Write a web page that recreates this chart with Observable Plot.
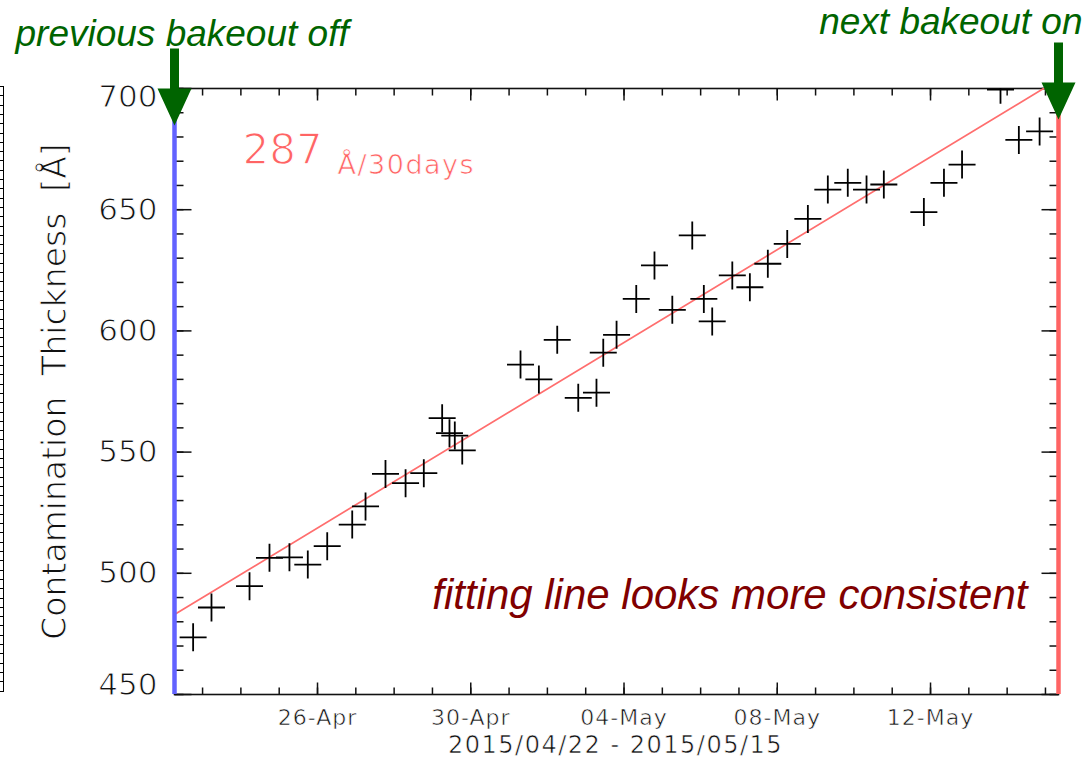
<!DOCTYPE html>
<html>
<head>
<meta charset="utf-8">
<script src="https://cdn.jsdelivr.net/npm/d3@7"></script>
<script src="https://cdn.jsdelivr.net/npm/@observablehq/plot@0.6"></script>
<style>
html, body { margin: 0; padding: 0; background: #fff; }
#wrap { position: relative; width: 1090px; height: 757px; overflow: hidden; background: #fff; }
#wrap svg { position: absolute; left: 0; top: 0; }
#edge { position: absolute; left: 0; top: 86px; width: 3px; height: 606px; border-right: 1.5px solid #000;
  background: repeating-linear-gradient(to bottom, #000 0, #000 1px, transparent 1px, transparent 9.3px); z-index: 2; }
</style>
</head>
<body>
<div id="wrap"><div id="edge"></div></div>
<script>
// ---- data ----
const obsTimes = [
  "2015-04-22T18:05Z", "2015-04-23T05:35Z", "2015-04-24T05:25Z", "2015-04-24T17:55Z",
  "2015-04-25T06:25Z", "2015-04-25T17:55Z", "2015-04-26T06:05Z", "2015-04-26T21:45Z",
  "2015-04-27T06:05Z", "2015-04-27T18:35Z", "2015-04-28T07:10Z", "2015-04-28T18:35Z",
  "2015-04-29T06:05Z", "2015-04-29T10:40Z", "2015-04-29T14:00Z", "2015-04-29T18:40Z",
  "2015-05-01T07:10Z", "2015-05-01T18:40Z", "2015-05-02T06:10Z", "2015-05-02T19:20Z",
  "2015-05-03T06:45Z", "2015-05-03T11:00Z", "2015-05-03T19:20Z", "2015-05-04T07:40Z",
  "2015-05-04T19:05Z", "2015-05-05T06:15Z", "2015-05-05T18:45Z", "2015-05-06T02:00Z",
  "2015-05-06T07:15Z", "2015-05-06T19:50Z", "2015-05-07T06:50Z", "2015-05-07T18:05Z",
  "2015-05-08T06:15Z", "2015-05-08T19:10Z", "2015-05-09T07:40Z", "2015-05-09T20:10Z",
  "2015-05-10T07:55Z", "2015-05-10T18:45Z", "2015-05-11T19:50Z", "2015-05-12T08:25Z",
  "2015-05-12T19:45Z", "2015-05-13T19:50Z", "2015-05-14T07:20Z", "2015-05-14T20:20Z"
];
const thickness = [
  473.6, 485.9, 494.7, 506.4,
  506.6, 503.6, 511.2, 520.1,
  527.6, 541.0, 537.2, 541.3,
  564.0, 557.8, 556.8, 550.7,
  586.1, 580.0, 596.3, 572.4,
  574.5, 591.0, 598.4, 613.2,
  627.0, 608.7, 639.4, 613.2,
  603.9, 622.9, 618.0, 627.7,
  635.9, 646.2, 658.3, 661.1,
  658.3, 660.4, 649.0, 661.1,
  668.6, 699.5, 678.8, 682.3
];
const bakeoutOff = "2015-04-22T06:25Z";   // previous bakeout off (left edge)
const bakeoutOn  = "2015-05-15T08:10Z";   // next bakeout on (right edge)
const fitIntercept = 483;                 // Å at bakeoutOff
const fitRatePer30Days = 287;             // Å / 30 days
const yDomain = [450, 700];
const yLabelTicks = [500, 550, 600, 650];
const yEndTicks = [450, 700];
const xLabelDates = ["2015-04-26", "2015-04-30", "2015-05-04", "2015-05-08", "2015-05-12"];
const rateText = "287";
const rateUnit = "Å/30days";
const leftNote = "previous bakeout off";
const rightNote = "next bakeout on";
const fitNote = "fitting line looks more consistent";
const yTitle = "Contamination\u00a0\u00a0Thickness\u00a0\u00a0[Å]";
const xTitle = "2015/04/22 - 2015/05/15";

// ---- derived tables ----
const t0 = new Date(bakeoutOff), t1 = new Date(bakeoutOn);
const obs = obsTimes.map((t, i) => ({date: new Date(t), value: thickness[i]}));
const dayMs = 864e5;
const fit = [t0, t1].map(d => ({date: d, value: fitIntercept + fitRatePer30Days / 30 * (d - t0) / dayMs}));
const xMajor = xLabelDates.map(d => new Date(d + "T00:00Z"));
const xMinor = d3.utcDay.range(d3.utcDay.ceil(t0), t1);
const yMajor = d3.range(yDomain[0], yDomain[1] + 1, 50);
const yMinor = d3.range(yDomain[0], yDomain[1] + 1, 10);
const arrows = [{date: t0, value: 684.7}, {date: t1, value: 687.2}];

const seg = (x1, y1, x2, y2) => ({draw(c) { c.moveTo(x1, y1); c.lineTo(x2, y2); }});
const plusSym = {draw(c) { c.moveTo(-13.5, 0); c.lineTo(13.5, 0); c.moveTo(0, -14); c.lineTo(0, 14); }};
const arrowSym = {draw(c) {
  c.moveTo(0, 0); c.lineTo(-17, -37); c.lineTo(-4.5, -37); c.lineTo(-4.5, -77);
  c.lineTo(4.5, -77); c.lineTo(4.5, -37); c.lineTo(17, -37); c.closePath();
}};

const thin = w => ({stroke: "#fff", strokeWidth: w, paintOrder: "normal"});
const axisFont = {fontFamily: "DejaVu Sans", fill: "#111"};
const noteFont = {fontFamily: "Liberation Sans", fontStyle: "italic"};
const tick = {stroke: "#111", strokeWidth: 1.5, fill: "none"};

const chart = Plot.plot({
  width: 1090, height: 757,
  marginLeft: 174, marginRight: 32, marginTop: 88, marginBottom: 63,
  x: {type: "utc", domain: [t0, t1], axis: null},
  y: {domain: yDomain, axis: null},
  style: {background: "transparent", overflow: "visible"},
  marks: [
    Plot.frame({stroke: "#111", strokeWidth: 1.6}),
    // ticks on four sides (IDL style, pointing inward)
    Plot.dot(yMajor, {y: d => d, frameAnchor: "left", symbol: seg(0, 0, 17, 0), ...tick}),
    Plot.dot(yMinor, {y: d => d, frameAnchor: "left", symbol: seg(0, 0, 9, 0), ...tick}),
    Plot.dot(yMajor, {y: d => d, frameAnchor: "right", symbol: seg(0, 0, -17, 0), ...tick}),
    Plot.dot(yMinor, {y: d => d, frameAnchor: "right", symbol: seg(0, 0, -9, 0), ...tick}),
    Plot.dot(xMajor, {x: d => d, frameAnchor: "bottom", symbol: seg(0, 0, 0, -12), ...tick}),
    Plot.dot(xMinor, {x: d => d, frameAnchor: "bottom", symbol: seg(0, 0, 0, -7), ...tick}),
    Plot.dot(xMajor, {x: d => d, frameAnchor: "top", symbol: seg(0, 0, 0, 12), ...tick}),
    Plot.dot(xMinor, {x: d => d, frameAnchor: "top", symbol: seg(0, 0, 0, 7), ...tick}),
    // axis labels
    Plot.axisY({ticks: yLabelTicks, tickSize: 0, tickPadding: 17, fontSize: 31, label: null, ...axisFont}),
    Plot.text([yEndTicks[1]], {y: d => d, frameAnchor: "left", textAnchor: "end", dx: -17, dy: 9, fontSize: 31, ...axisFont, ...thin(1.0)}),
    Plot.text([yEndTicks[0]], {y: d => d, frameAnchor: "left", textAnchor: "end", dx: -17, dy: -9, fontSize: 31, ...axisFont, ...thin(1.0)}),
    Plot.axisX({ticks: xMajor, tickFormat: d3.utcFormat("%d-%b"), tickSize: 0, tickPadding: 15, fontSize: 22, label: null, ...axisFont}),
    Plot.text([xTitle], {frameAnchor: "bottom", dx: -1, dy: 58, lineAnchor: "bottom", fontSize: 24, ...axisFont, ...thin(0.6)}),
    Plot.text([yTitle], {frameAnchor: "left", textAnchor: "middle", lineAnchor: "middle", dx: -119, rotate: -90, fontSize: 33, ...axisFont, ...thin(1.0)}),
    // fit line and observations
    Plot.line(fit, {x: "date", y: "value", stroke: "#ff6e6e", strokeWidth: 1.7, clip: true}),
    Plot.dot(obs, {x: "date", y: "value", symbol: plusSym, fill: "none", stroke: "#000", strokeWidth: 1.8, clip: true}),
    // bakeout markers
    Plot.ruleX([t0], {stroke: "#6262ff", strokeWidth: 4.5}),
    Plot.ruleX([t1], {stroke: "#ff6464", strokeWidth: 4.5}),
    Plot.dot(arrows, {x: "date", y: "value", symbol: arrowSym, fill: "#006400", stroke: "none"}),
    // annotations
    Plot.text([leftNote], {frameAnchor: "top-left", dx: -159, dy: -43, textAnchor: "start", lineAnchor: "bottom", fontSize: 37, fill: "#006400", ...noteFont}),
    Plot.text([rightNote], {frameAnchor: "top-right", dx: 24, dy: -55, textAnchor: "end", lineAnchor: "bottom", fontSize: 37, fill: "#006400", ...noteFont}),
    Plot.text([fitNote], {frameAnchor: "bottom-right", dx: -31, dy: -86, textAnchor: "end", lineAnchor: "bottom", fontSize: 42, fill: "#800000", ...noteFont}),
    Plot.text([rateText], {frameAnchor: "top-left", dx: 68, dy: 75, textAnchor: "start", lineAnchor: "bottom", fontSize: 42, fill: "#ff6464", fontFamily: "DejaVu Sans", ...thin(1.3)}),
    Plot.text([rateUnit], {frameAnchor: "top-left", dx: 163, dy: 85, textAnchor: "start", lineAnchor: "bottom", fontSize: 27, fill: "#ff6464", fontFamily: "DejaVu Sans", ...thin(0.7)})
  ]
});
const thinText = (sel, w, spacing) => chart.querySelectorAll(sel).forEach(t => {
  t.style.stroke = "#fff"; t.style.strokeWidth = w + "px"; t.style.paintOrder = "normal";
  if (spacing) t.style.letterSpacing = spacing;
});
thinText('g[aria-label^="y-axis"] text', 1.0);
thinText('g[aria-label^="x-axis"] text', 0.6, "1px");
chart.querySelectorAll("text").forEach(t => {
  if (t.textContent === xTitle) t.setAttribute("letter-spacing", "1.5");
  if (t.textContent === rateUnit) t.setAttribute("letter-spacing", "1.5");
});
document.getElementById("wrap").appendChild(chart);
</script>
</body>
</html>
